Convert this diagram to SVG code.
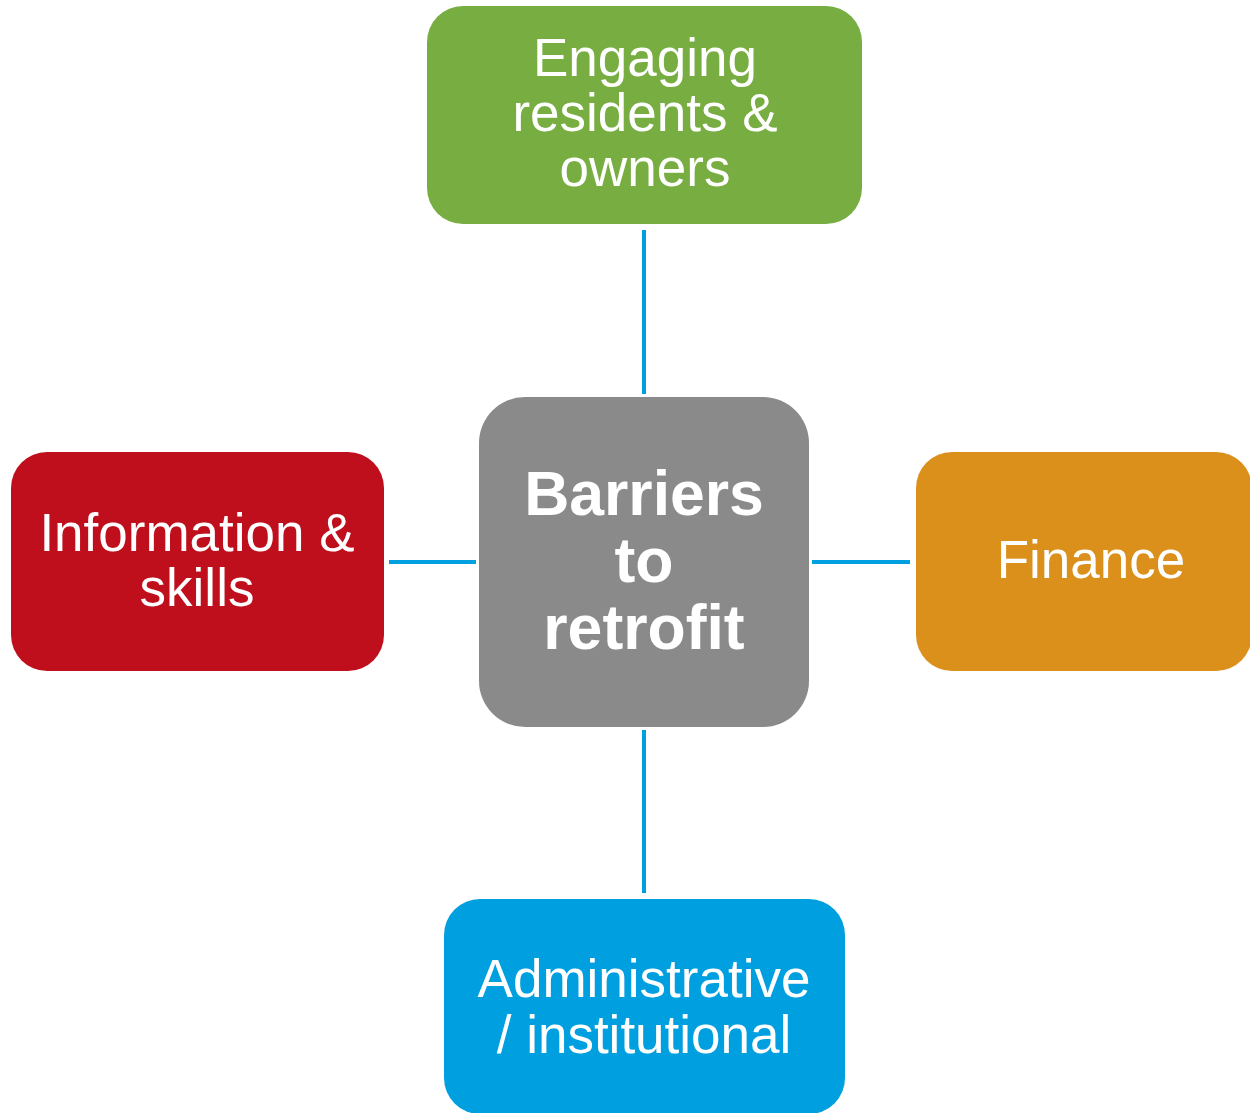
<svg xmlns="http://www.w3.org/2000/svg" width="1250" height="1113" viewBox="0 0 1250 1113">
<style>
.t{font-family:"Liberation Sans",Arial,sans-serif;font-size:53px;fill:#fff;text-anchor:middle}
.b{font-family:"Liberation Sans",Arial,sans-serif;font-size:62.5px;font-weight:bold;fill:#fff;text-anchor:middle}
.c{stroke:#009FE0;stroke-width:4;fill:none}
</style>
<rect width="1250" height="1113" fill="#fff"/>
<g id="connectors">
<line class="c" x1="644" y1="230" x2="644" y2="394"/>
<line class="c" x1="644" y1="730" x2="644" y2="893"/>
<line class="c" x1="389" y1="562" x2="476" y2="562"/>
<line class="c" x1="812" y1="562" x2="910" y2="562"/>
</g>
<g id="engaging">
<rect x="427" y="6" width="435" height="218" rx="36" fill="#77AD41"/>
<text class="t" x="645" y="76">Engaging</text>
<text class="t" x="645" y="131">residents &amp;</text>
<text class="t" x="645" y="186">owners</text>
</g>
<g id="barriers">
<rect x="479" y="397" width="330" height="330" rx="46" fill="#8A8A8A"/>
<text class="b" x="644" y="515">Barriers</text>
<text class="b" x="644" y="582">to</text>
<text class="b" x="644" y="649">retrofit</text>
</g>
<g id="information">
<rect x="11" y="452" width="373" height="219" rx="36" fill="#C00F1C"/>
<text class="t" x="197" y="551">Information &amp;</text>
<text class="t" x="197" y="606">skills</text>
</g>
<g id="finance">
<rect x="916" y="452" width="336" height="219" rx="36" fill="#DB901C"/>
<text class="t" x="1091" y="578">Finance</text>
</g>
<g id="administrative">
<rect x="444" y="899" width="401" height="215" rx="36" fill="#009FE0"/>
<text class="t" x="644" y="997">Administrative</text>
<text class="t" x="644" y="1053">/ institutional</text>
</g>
</svg>
